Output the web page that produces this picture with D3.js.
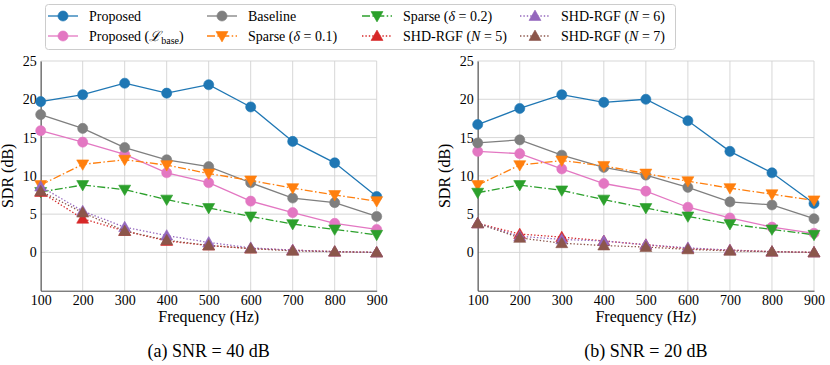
<!DOCTYPE html>
<html>
<head>
<meta charset="utf-8">
<script src="https://cdn.jsdelivr.net/npm/d3@7"></script>
<style>
  body { margin: 0; background: #fff; }
  text { font-family: "Liberation Serif", "Times New Roman", serif; fill: #000; }
</style>
</head>
<body>
<svg id="chart"></svg>
<script>
// chart size
var width = 830,
    height = 365;

// x categories
var freqs = [100, 200, 300, 400, 500, 600, 700, 800, 900];
var yTicks = [0, 5, 10, 15, 20, 25];

// panel (a) SNR = 40 dB
var a_proposed = [19.7, 20.6, 22.1, 20.8, 21.9, 19.0, 14.5, 11.7, 7.3];
var a_propBase = [15.9, 14.4, 12.8, 10.4, 9.1, 6.7, 5.2, 3.8, 3.0];
var a_baseline = [18.0, 16.2, 13.7, 12.1, 11.2, 9.1, 7.1, 6.5, 4.7];
var a_sparse01 = [8.8, 11.5, 12.1, 11.4, 10.3, 9.4, 8.4, 7.5, 6.7];
var a_sparse02 = [7.9, 8.8, 8.2, 6.9, 5.8, 4.7, 3.7, 3.0, 2.3];
var a_shd5 = [7.9, 4.4, 2.8, 1.5, 0.9, 0.5, 0.3, 0.1, 0.0];
var a_shd6 = [8.6, 5.4, 3.3, 2.2, 1.3, 0.6, 0.3, 0.1, 0.0];
var a_shd7 = [8.0, 5.2, 2.8, 1.6, 0.9, 0.5, 0.2, 0.1, 0.0];

// panel (b) SNR = 20 dB
var b_proposed = [16.7, 18.8, 20.6, 19.6, 20.0, 17.2, 13.2, 10.4, 6.4];
var b_propBase = [13.2, 12.9, 10.9, 9.0, 8.0, 5.9, 4.5, 3.3, 2.5];
var b_baseline = [14.3, 14.7, 12.7, 11.1, 10.1, 8.5, 6.6, 6.2, 4.4];
var b_sparse01 = [8.8, 11.4, 12.0, 11.3, 10.3, 9.3, 8.4, 7.6, 6.8];
var b_sparse02 = [7.8, 8.8, 8.1, 6.9, 5.8, 4.7, 3.7, 3.0, 2.3];
var b_shd5 = [3.8, 2.4, 2.0, 1.5, 1.0, 0.5, 0.3, 0.1, 0.0];
var b_shd6 = [3.8, 2.1, 1.7, 1.5, 1.0, 0.6, 0.3, 0.1, 0.0];
var b_shd7 = [3.8, 1.9, 1.2, 0.9, 0.7, 0.4, 0.2, 0.1, 0.0];

// series styles, in legend / drawing order
var styles = [
  {key: "proposed", color: "#1f77b4", dash: null, marker: "circle"},
  {key: "propBase", color: "#e377c2", dash: null, marker: "circle"},
  {key: "baseline", color: "#7f7f7f", dash: null, marker: "circle"},
  {key: "sparse01", color: "#ff7f0e", dash: "8,2.4,1.5,2.4", marker: "down"},
  {key: "sparse02", color: "#2ca02c", dash: "8,2.4,1.5,2.4", marker: "down"},
  {key: "shd5", color: "#d62728", dash: "1.4,2", marker: "up"},
  {key: "shd6", color: "#9467bd", dash: "1.4,2", marker: "up"},
  {key: "shd7", color: "#8c564b", dash: "1.4,2", marker: "up"}
];

var panels = [
  {left: 40.7, right: 376.7, caption: "(a) SNR = 40 dB",
   data: {proposed: a_proposed, propBase: a_propBase, baseline: a_baseline, sparse01: a_sparse01,
          sparse02: a_sparse02, shd5: a_shd5, shd6: a_shd6, shd7: a_shd7}},
  {left: 477.7, right: 814, caption: "(b) SNR = 20 dB",
   data: {proposed: b_proposed, propBase: b_propBase, baseline: b_baseline, sparse01: b_sparse01,
          sparse02: b_sparse02, shd5: b_shd5, shd6: b_shd6, shd7: b_shd7}}
];

var svg = d3.select("#chart")
    .attr("width", width)
    .attr("height", height);

var y = d3.scaleLinear()
    .domain([-5, 25])
    .range([290.7, 61]);

function markerPath(m) {
  if (m === "circle") return d3.symbol().type(d3.symbolCircle).size(80)();
  return d3.symbol().type(d3.symbolTriangle).size(62)();
}

function drawMarker(g, m, color, cx, cy) {
  var p = g.append("path")
      .attr("d", markerPath(m))
      .attr("fill", color)
      .attr("stroke", color)
      .attr("stroke-width", 0.6);
  if (m === "down") p.attr("transform", "translate(" + cx + "," + (cy - 1) + ") rotate(180)");
  else if (m === "up") p.attr("transform", "translate(" + cx + "," + (cy + 1) + ")");
  else p.attr("transform", "translate(" + cx + "," + cy + ")");
}

panels.forEach(function(panel) {
  var x = d3.scaleLinear()
      .domain([100, 900])
      .range([panel.left, panel.right]);

  var g = svg.append("g");

  // grid
  g.selectAll(".hgrid").data(yTicks).enter().append("line")
      .attr("x1", panel.left).attr("x2", panel.right)
      .attr("y1", function(d) { return y(d); }).attr("y2", function(d) { return y(d); })
      .attr("stroke", "#d3d3d3").attr("stroke-width", 0.9);
  g.selectAll(".vgrid").data(freqs).enter().append("line")
      .attr("x1", function(d) { return x(d); }).attr("x2", function(d) { return x(d); })
      .attr("y1", y(-5)).attr("y2", y(25))
      .attr("stroke", "#d3d3d3").attr("stroke-width", 0.9);

  // axes, no tick marks
  var xAxis = g.append("g")
      .attr("transform", "translate(0," + y(-5) + ")")
      .call(d3.axisBottom(x).tickValues(freqs).tickSize(0).tickPadding(4));
  var yAxis = g.append("g")
      .attr("transform", "translate(" + panel.left + ",0)")
      .call(d3.axisLeft(y).tickValues(yTicks).tickSize(0).tickPadding(4));
  [xAxis, yAxis].forEach(function(ax) {
    ax.attr("font-family", null);
    ax.select(".domain").attr("stroke", "#444").attr("stroke-width", 1);
    ax.selectAll("text")
        .style("font-size", "14px")
        .attr("fill", "#000");
  });
  xAxis.selectAll("text").attr("dy", "0.72em");

  // lines and markers
  styles.forEach(function(s) {
    var vals = panel.data[s.key];
    var line = d3.line()
        .x(function(d, i) { return x(freqs[i]); })
        .y(function(d) { return y(d); });
    g.append("path")
        .datum(vals)
        .attr("d", line)
        .attr("fill", "none")
        .attr("stroke", s.color)
        .attr("stroke-width", 1.3)
        .attr("stroke-dasharray", s.dash);
    vals.forEach(function(v, i) {
      drawMarker(g, s.marker, s.color, x(freqs[i]), y(v));
    });
  });

  // labels
  var mid = (panel.left + panel.right) / 2;
  g.append("text")
      .attr("x", mid).attr("y", 322)
      .attr("text-anchor", "middle")
      .style("font-size", "16px")
      .text("Frequency (Hz)");
  g.append("text")
      .attr("transform", "translate(" + (panel.left - 28) + "," + y(10) + ") rotate(-90)")
      .attr("text-anchor", "middle")
      .style("font-size", "16px")
      .text("SDR (dB)");
  g.append("text")
      .attr("x", mid).attr("y", 357)
      .attr("text-anchor", "middle")
      .style("font-size", "18px")
      .text(panel.caption);
});

// legend
var legend = svg.append("g");
legend.append("rect")
    .attr("x", 45.5).attr("y", 4.5)
    .attr("width", 630).attr("height", 45)
    .attr("rx", 3)
    .attr("fill", "#fff")
    .attr("stroke", "#ccc");

var legCols = [48, 207, 362, 520];
var legRows = [16, 36];

function legendLabel(t, i) {
  if (i === 0) t.text("Proposed");
  else if (i === 1) {
    t.text("Proposed (");
    t.append("tspan").style("font-style", "italic").text("\u2112");
    t.append("tspan").attr("dy", 3).style("font-size", "10px").text("base");
    t.append("tspan").attr("dy", -3).text(")");
  } else if (i === 2) t.text("Baseline");
  else if (i === 3 || i === 4) {
    t.text("Sparse (");
    t.append("tspan").style("font-style", "italic").text("\u03b4");
    t.append("tspan").text(" = " + (i === 3 ? "0.1" : "0.2") + ")");
  } else {
    t.text("SHD-RGF (");
    t.append("tspan").style("font-style", "italic").text("N");
    t.append("tspan").text(" = " + i + ")");
  }
}

styles.forEach(function(s, i) {
  var cx = legCols[Math.floor(i / 2)],
      cy = legRows[i % 2];
  var lg = legend.append("g");
  lg.append("line")
      .attr("x1", cx).attr("x2", cx + 30)
      .attr("y1", cy).attr("y2", cy)
      .attr("stroke", s.color)
      .attr("stroke-width", 1.3)
      .attr("stroke-dasharray", s.dash);
  drawMarker(lg, s.marker, s.color, cx + 15, cy);
  var t = lg.append("text")
      .attr("x", cx + 41).attr("y", cy + 5)
      .style("font-size", "14px");
  legendLabel(t, i);
});
</script>
</body>
</html>
